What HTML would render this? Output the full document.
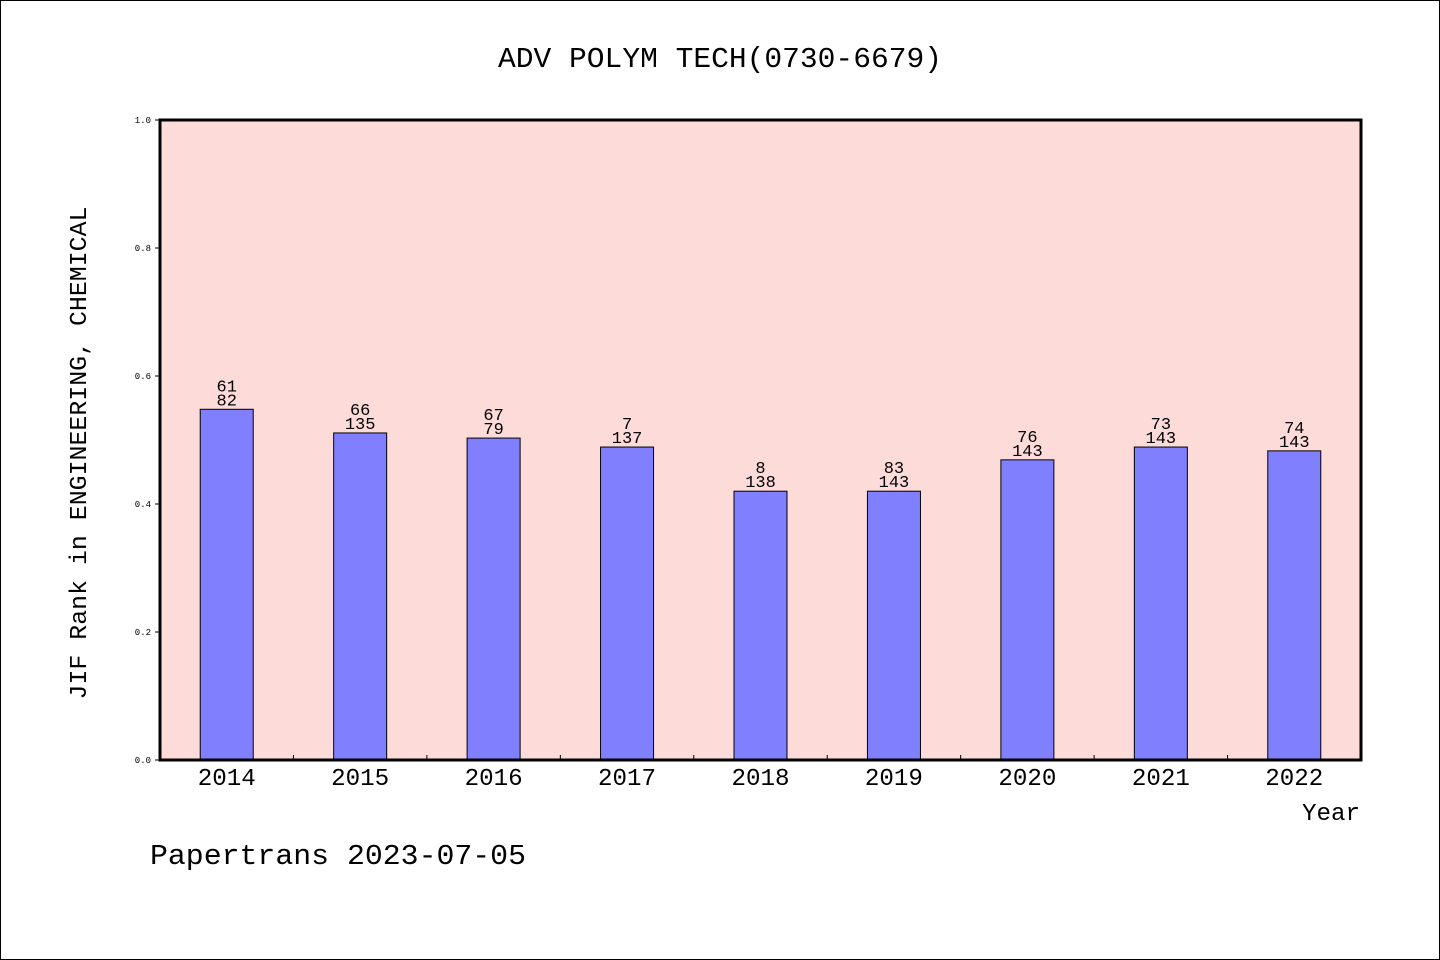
<!DOCTYPE html>
<html><head><meta charset="utf-8"><style>
html,body{margin:0;padding:0;background:#fff}
svg{display:block}
text{font-family:"Liberation Mono","WenQuanYi Zen Hei",monospace;fill:#000}
</style></head><body>
<svg id="chart" width="1440" height="960" viewBox="0 0 1440 960">
<rect x="0.5" y="0.5" width="1439" height="959" fill="#fff" stroke="#000"/>
<text x="720" y="67" font-size="29" text-anchor="middle" textLength="444" lengthAdjust="spacingAndGlyphs">ADV POLYM TECH(0730-6679)</text>
<rect x="160" y="120" width="1201" height="640" fill="#fddbd9"/>
<g id="bars"></g>
<rect x="160" y="120" width="1201" height="640" fill="none" stroke="#000" stroke-width="3"/>
<g id="axes"></g>
<text transform="translate(86,453) rotate(-90)" font-size="24" text-anchor="middle" textLength="493" lengthAdjust="spacingAndGlyphs">JIF Rank in ENGINEERING, CHEMICAL</text>
<text x="1360" y="820" font-size="24" text-anchor="end" textLength="58" lengthAdjust="spacingAndGlyphs">Year</text>
<text x="150" y="864" font-size="29" textLength="376" lengthAdjust="spacingAndGlyphs">Papertrans 2023-07-05</text>
</svg>
<script>
const years = ["2014","2015","2016","2017","2018","2019","2020","2021","2022"];
const values = [0.548,0.511,0.503,0.489,0.420,0.420,0.469,0.489,0.483];
const ranks = ["61","66","67","7","8","83","76","73","74"];
const totals = ["82","135","79","137","138","143","143","143","143"];
const yTicks = [0,0.2,0.4,0.6,0.8,1.0];
const NS="http://www.w3.org/2000/svg";
const X0=160,X1=1361,Y0=760,Y1=120;
const band=(X1-X0)/years.length;
const xc=i=>X0+band*(i+0.5);
const y=v=>Y0-(Y0-Y1)*v;
function mk(tag,attrs,parent){const e=document.createElementNS(NS,tag);for(const k in attrs)e.setAttribute(k,attrs[k]);parent.appendChild(e);return e;}
const bars=document.getElementById('bars'),axes=document.getElementById('axes');
years.forEach((yr,i)=>{
  const r=mk('rect',{x:xc(i)-26.5,y:y(values[i]),width:53,height:Y0-y(values[i]),fill:'#8080ff',stroke:'#000','stroke-width':1},bars);
  
  
  const t1=mk('text',{x:xc(i),y:y(values[i])-18,'font-size':17,'text-anchor':'middle'},bars);
  t1.textContent=ranks[i];
  
  
  const t2=mk('text',{x:xc(i),y:y(values[i])-4,'font-size':17,'text-anchor':'middle'},bars);
  t2.textContent=totals[i];
  
  
  const xl=mk('text',{x:xc(i),y:785,'font-size':24,'text-anchor':'middle',textLength:58,lengthAdjust:'spacingAndGlyphs'},axes);
  xl.textContent=yr;
  
  
  if(i>0){
    const tk=mk('line',{x1:X0+band*i,x2:X0+band*i,y1:Y0,y2:Y0-5,stroke:'#000'},axes);
    
    
  }
});
yTicks.forEach(v=>{
  const tk=mk('line',{x1:X0-5,x2:X0,y1:y(v),y2:y(v),stroke:'#000'},axes);
  
  
  const tl=mk('text',{x:X0-9,y:y(v)+3,'font-size':9,'text-anchor':'end'},axes);
  tl.textContent=v.toFixed(1);
  
  
});
</script>
</body></html>
